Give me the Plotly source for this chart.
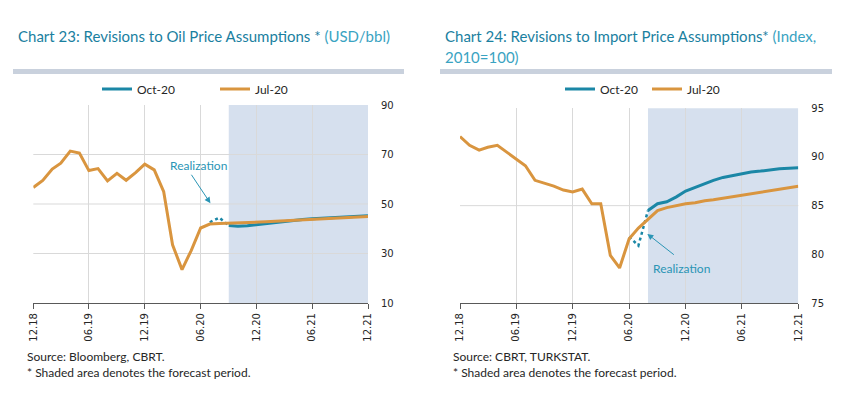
import pandas as pd
import plotly.graph_objects as go

# page is 849x395; the html body has an 8px margin, so the figure is drawn 8px in
OFF = 8
W, H = 849 - 2 * OFF, 395 - 2 * OFF

# ---------------- data ----------------
months = pd.date_range("2018-12-01", "2021-12-01", freq="MS").strftime("%Y-%m-%d").tolist()

tick_dates = ["2018-12-01", "2019-06-01", "2019-12-01", "2020-06-01",
              "2020-12-01", "2021-06-01", "2021-12-01"]
tick_labels = ["12.18", "06.19", "12.19", "06.20", "12.20", "06.21", "12.21"]

# Chart 23: oil price (USD/bbl)
oil_jul20 = [56.7, 59.5, 64.1, 66.5, 71.4, 70.6, 63.5, 64.3, 59.3, 62.4, 59.6, 62.7,
             66.1, 63.8, 55.0, 33.5, 23.5, 31.2, 40.3, 41.9, 42.1, 42.2, 42.3, 42.4,
             42.6, 42.8, 43.0, 43.2, 43.4, 43.6, 43.8, 44.0, 44.2, 44.4, 44.6, 44.8, 45.0]
oil_oct20_months = months[21:]
oil_oct20 = [41.3, 41.0, 41.2, 41.6, 42.1, 42.6, 43.1, 43.4, 43.7, 44.0, 44.2, 44.5,
             44.7, 44.9, 45.1, 45.3]
oil_real_months = months[19:22]
oil_real = [42.6, 44.5, 41.3]
oil_yticks = [10, 30, 50, 70, 90]
oil_grid = [30, 50, 70]
oil_forecast_start = "2020-09-01"

# Chart 24: import prices (Index, 2010=100)
imp_jul20 = [92.1, 91.2, 90.7, 91.0, 91.2, 90.5, 89.8, 89.1, 87.6, 87.3, 87.0, 86.6,
             86.4, 86.7, 85.2, 85.2, 79.9, 78.6, 81.6, 82.7, 83.6, 84.5, 84.8, 85.0,
             85.2, 85.3, 85.5, 85.6, 85.75, 85.9, 86.05, 86.2, 86.35, 86.5, 86.65, 86.8, 87.0]
imp_oct20_months = months[20:]
imp_oct20 = [84.5, 85.2, 85.4, 85.9, 86.5, 86.9, 87.3, 87.6, 87.9, 88.1, 88.3, 88.45,
             88.55, 88.7, 88.8, 88.85, 88.9]
imp_real_months = months[18:21]
imp_real = [81.8, 80.9, 84.5]
imp_yticks = [75, 80, 85, 90, 95]
imp_grid = [85]
imp_forecast_start = "2020-08-01"

# ---------------- style ----------------
TEAL = "#1B87A6"
ORANGE = "#D9953F"
SHADE = "#D6E0EE"
GRID = "#D9D9D9"
AXIS = "#595959"
TXT = "#262626"
TITLE_DARK = "#1A809F"
TITLE_LIGHT = "#3AA3C2"
TICKFONT = dict(family="DejaVu Sans", size=10, color=TXT)
TEXTFONT = "Lato"


def px_x(p):
    return (p - OFF) / W


def px_y(p):
    return 1 - (p - OFF) / H


fig = go.Figure()

# chart 23 traces
fig.add_trace(go.Scatter(x=oil_real_months, y=oil_real, mode="lines", showlegend=False,
                         line=dict(color=TEAL, width=2.5, dash="dot"), xaxis="x", yaxis="y"))
fig.add_trace(go.Scatter(x=oil_oct20_months, y=oil_oct20, mode="lines", name="Oct-20",
                         line=dict(color=TEAL, width=3), xaxis="x", yaxis="y", legend="legend"))
fig.add_trace(go.Scatter(x=months, y=oil_jul20, mode="lines", name="Jul-20",
                         line=dict(color=ORANGE, width=3), xaxis="x", yaxis="y", legend="legend"))

# chart 24 traces
fig.add_trace(go.Scatter(x=imp_real_months, y=imp_real, mode="lines", showlegend=False,
                         line=dict(color=TEAL, width=2.5, dash="dot"), xaxis="x2", yaxis="y2"))
fig.add_trace(go.Scatter(x=imp_oct20_months, y=imp_oct20, mode="lines", name="Oct-20",
                         line=dict(color=TEAL, width=3), xaxis="x2", yaxis="y2", legend="legend2"))
fig.add_trace(go.Scatter(x=months, y=imp_jul20, mode="lines", name="Jul-20",
                         line=dict(color=ORANGE, width=3), xaxis="x2", yaxis="y2", legend="legend2"))

xcommon = dict(type="date", range=[months[0], months[-1]], tickmode="array",
               tickvals=tick_dates, ticktext=tick_labels, tickangle=-90,
               showgrid=True, gridcolor=GRID, gridwidth=1, showline=True, linecolor=AXIS,
               linewidth=1, ticks="outside", ticklen=5, tickcolor=AXIS, tickfont=TICKFONT,
               zeroline=False, fixedrange=True, automargin=False)
ycommon = dict(side="right", showgrid=False, zeroline=False, showline=False,
               ticks="outside", ticklen=10, tickcolor="rgba(0,0,0,0)", tickfont=TICKFONT,
               automargin=False)

legfont = dict(family=TEXTFONT, size=12, color=TXT)
fig.update_layout(
    width=W, height=H, margin=dict(l=0, r=0, t=0, b=0, autoexpand=False),
    paper_bgcolor="white", plot_bgcolor="white",
    xaxis=dict(domain=[px_x(33.3), px_x(368)], anchor="y", **xcommon),
    yaxis=dict(domain=[px_y(303), px_y(105)], anchor="x", range=[10, 90],
               tickvals=oil_yticks, **ycommon),
    xaxis2=dict(domain=[px_x(460), px_x(798.3)], anchor="y2", **xcommon),
    yaxis2=dict(domain=[px_y(303), px_y(108.3)], anchor="x2", range=[75, 95],
                tickvals=imp_yticks, **ycommon),
    legend=dict(orientation="h", x=px_x(97), y=px_y(89), xanchor="left", yanchor="middle",
                font=legfont, bgcolor="rgba(0,0,0,0)",
                entrywidth=73, entrywidthmode="pixels", tracegroupgap=0),
    legend2=dict(orientation="h", x=px_x(560), y=px_y(89), xanchor="left", yanchor="middle",
                 font=legfont, bgcolor="rgba(0,0,0,0)",
                 entrywidth=42, entrywidthmode="pixels", tracegroupgap=0),
    showlegend=True,
)

shapes = []
# forecast shading
shapes.append(dict(type="rect", xref="x", yref="y domain", x0=oil_forecast_start, x1=months[-1],
                   y0=0, y1=1, fillcolor=SHADE, line=dict(width=0), layer="below"))
shapes.append(dict(type="rect", xref="x2", yref="y2 domain", x0=imp_forecast_start, x1=months[-1],
                   y0=0, y1=1, fillcolor=SHADE, line=dict(width=0), layer="below"))
# horizontal gridlines
for v in oil_grid:
    shapes.append(dict(type="line", xref="x domain", yref="y", x0=0, x1=1, y0=v, y1=v,
                       line=dict(color=GRID, width=1), layer="below"))
for v in imp_grid:
    shapes.append(dict(type="line", xref="x2 domain", yref="y2", x0=0, x1=1, y0=v, y1=v,
                       line=dict(color=GRID, width=1), layer="below"))
# grey header bars
shapes.append(dict(type="rect", xref="paper", yref="paper", x0=px_x(13), x1=px_x(404),
                   y0=px_y(74), y1=px_y(69), fillcolor="#C9D1DD", line=dict(width=0)))
shapes.append(dict(type="rect", xref="paper", yref="paper", x0=px_x(440), x1=px_x(832),
                   y0=px_y(74), y1=px_y(69), fillcolor="#C9D1DD", line=dict(width=0)))
fig.update_layout(shapes=shapes)

ann = []
title_font = dict(family=TEXTFONT, size=15, color=TITLE_LIGHT)
ann.append(dict(xref="paper", yref="paper", x=px_x(16), y=px_y(36), xanchor="left", yanchor="middle",
                showarrow=False, font=title_font,
                text=f"<span style='color:{TITLE_DARK}'>Chart 23: Revisions to Oil Price Assumptions *</span> (USD/bbl)"))
ann.append(dict(xref="paper", yref="paper", x=px_x(443), y=px_y(36), xanchor="left", yanchor="middle",
                showarrow=False, font=title_font,
                text=f"<span style='color:{TITLE_DARK}'>Chart 24: Revisions to Import Price Assumptions*</span> (Index,"))
ann.append(dict(xref="paper", yref="paper", x=px_x(443), y=px_y(57), xanchor="left", yanchor="middle",
                showarrow=False, font=title_font, text="2010=100)"))

src_font = dict(family=TEXTFONT, size=12, color=TXT)
for xx, s in [(25, "Source: Bloomberg, CBRT."), (451, "Source: CBRT, TURKSTAT.")]:
    ann.append(dict(xref="paper", yref="paper", x=px_x(xx), y=px_y(356), xanchor="left",
                    yanchor="middle", showarrow=False, font=src_font, text=s))
    ann.append(dict(xref="paper", yref="paper", x=px_x(xx), y=px_y(372), xanchor="left",
                    yanchor="middle", showarrow=False, font=src_font,
                    text="* Shaded area denotes the forecast period."))

real_font = dict(family=TEXTFONT, size=12, color="#2A95B5")
# chart 23 realization label + arrow
ann.append(dict(xref="x", yref="y", x="2020-05-24", y=65.4, showarrow=False, font=real_font,
                text="Realization"))
ann.append(dict(xref="x", yref="y", x="2020-07-03", y=50.3, ax=-20, ay=-30, axref="pixel",
                ayref="pixel", text="", showarrow=True, arrowhead=2, arrowsize=1.2,
                arrowwidth=1, arrowcolor="#2A95B5"))
# chart 24 realization label + arrow
ann.append(dict(xref="x2", yref="y2", x="2020-11-18", y=78.5, showarrow=False, font=real_font,
                text="Realization"))
ann.append(dict(xref="x2", yref="y2", x="2020-07-30", y=82.1, ax=28, ay=22, axref="pixel",
                ayref="pixel", text="", showarrow=True, arrowhead=2, arrowsize=1.2,
                arrowwidth=1, arrowcolor="#2A95B5"))
fig.update_layout(annotations=ann)

fig.write_html("out.html")
